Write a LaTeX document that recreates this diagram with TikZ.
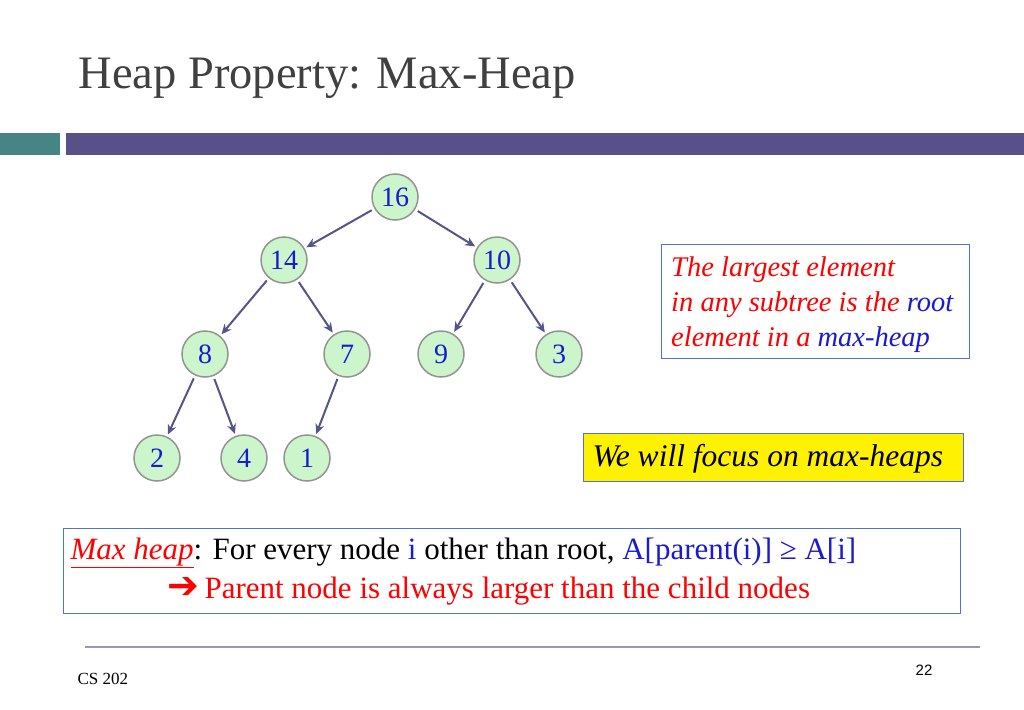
\documentclass[tikz,border=0pt]{standalone}
\usepackage{fontspec}
\setmainfont{Liberation Serif}
\newfontfamily\sansf{Liberation Sans}
\newfontfamily\dejav{DejaVu Sans}
\usetikzlibrary{arrows.meta}
\definecolor{teal1}{HTML}{478585}
\definecolor{purp}{HTML}{575089}
\definecolor{ngreen}{HTML}{CCF5CC}
\definecolor{nblue}{HTML}{1A1AD0}
\definecolor{edge}{HTML}{55558A}
\definecolor{boxb}{HTML}{4F74D8}
\begin{document}
\begin{tikzpicture}[x=1pt,y=-1pt,
  hn/.style={circle,draw=gray!85,line width=1.5pt,fill=ngreen,minimum size=46pt,inner sep=0pt,font=\fontsize{28}{30}\selectfont,text=nblue},
  ed/.style={-{Stealth[length=10pt,width=9pt]},draw=edge,line width=2pt,shorten >=2pt,shorten <=3pt},
  bx/.style={draw=boxb,line width=1pt}]
\useasboundingbox (0,0) rectangle (1024,709);
\node[anchor=west,text=black!75,font=\fontsize{46.5}{50}\selectfont] (title) at (75,78) {Heap Property: Max-Heap};
\fill[teal1] (0,133) rectangle (60,155);
\fill[purp] (66,133) rectangle (1024,155);
\node[hn] (n16) at (395,197) {16};
\node[hn] (n14) at (284,260) {14};
\node[hn] (n10) at (497,260) {10};
\node[hn] (n8) at (205,354) {8};
\node[hn] (n7) at (347,354) {7};
\node[hn] (n9) at (441,354) {9};
\node[hn] (n3) at (559,354) {3};
\node[hn] (n2) at (157,458) {2};
\node[hn] (n4) at (244,458) {4};
\node[hn] (n1) at (307,458) {1};
\foreach \a/\b in {n16/n14,n16/n10,n14/n8,n14/n7,n10/n9,n10/n3,n8/n2,n8/n4,n7/n1}
  \draw[ed] (\a) -- (\b);
\draw[bx] (661,244) rectangle (969,358);
\node[anchor=north west,align=left,inner sep=0pt,font=\fontsize{28.5}{35}\selectfont\itshape] (rt) at (671,257)
 {\textcolor{red}{The largest} \textcolor{red}{element}\\
  \textcolor{red}{in any subtree is the} \textcolor{nblue}{root}\\
  \textcolor{red}{element in a} \textcolor{nblue}{max-heap}};
\node[bx,fill=yellow,minimum width=380pt,minimum height=48pt,anchor=north west,inner sep=0pt] (yb) at (583,433) {};
\node[anchor=west,font=\fontsize{31.5}{33}\selectfont\itshape] (yt) at (589,459) {We will focus on max-heaps};
\draw[bx] (63,528) rectangle (960,613);
\node[anchor=west,font=\fontsize{31}{33}\selectfont] (l1) at (67,553)
 {\textcolor{red}{\itshape\underline{Max heap}}: For every node \textcolor{nblue}{i} other than root, \textcolor{nblue}{A[parent(i)] ≥ A[i]}};
\node[anchor=west,font=\fontsize{31}{33}\selectfont,text=red] (l2) at (164,591)
 {{\dejav\bfseries\fontsize{38}{38}\selectfont ➔}\,Parent node is always larger than the child nodes};
\draw[line width=2pt,draw=purp!60] (85,647) -- (980,647);
\node[anchor=west,font=\fontsize{17}{19}\selectfont] (cs) at (74,679) {CS 202};
\node[font=\sansf\fontsize{15}{17}\selectfont] (pg) at (924,670) {22};
\end{tikzpicture}
\end{document}
